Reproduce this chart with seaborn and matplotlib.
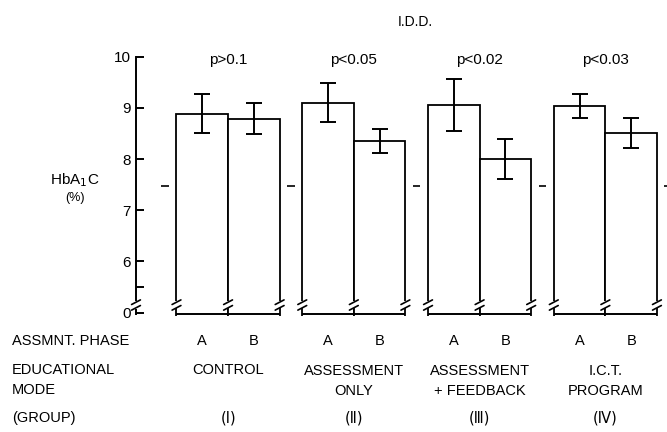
import numpy as np
import pandas as pd
import matplotlib
matplotlib.use("Agg")
import matplotlib.pyplot as plt
import matplotlib.transforms as mtransforms
import seaborn as sns

sns.set_style("white")
plt.rcParams['font.family'] = ['Liberation Sans', 'DejaVu Sans']
plt.rcParams['text.color'] = 'black'
plt.rcParams['ytick.color'] = 'black'
plt.rcParams['ytick.labelcolor'] = 'black'

## data ##
groups = ["I", "II", "III", "IV"]
phases = ["A", "B"]
hba1c_A = [8.89, 9.10, 9.06, 9.04]
hba1c_B = [8.79, 8.35, 8.00, 8.51]
err_A = [0.375, 0.38, 0.51, 0.24]
err_B = [0.30, 0.235, 0.39, 0.285]
p_labels = ["p>0.1", "p<0.05", "p<0.02", "p<0.03"]
mode_labels = ["CONTROL", "ASSESSMENT\nONLY", "ASSESSMENT\n+ FEEDBACK", "I.C.T.\nPROGRAM"]
group_labels = ["(Ⅰ)", "(Ⅱ)", "(Ⅲ)", "(Ⅳ)"]
dash_level = 7.47
y_ticks = [5.5, 6, 7, 8, 9, 10]
y_ticklabels = ["", "6", "7", "8", "9", "10"]
y_zero = 4.99  # position of the "0" after the axis break

df = pd.DataFrame({
    "group": groups * 2,
    "phase": ["A"] * 4 + ["B"] * 4,
    "value": hba1c_A + hba1c_B,
})

W, H = 667, 432
fig = plt.figure(figsize=(W / 100, H / 100), dpi=100)
ax = fig.add_axes([136 / W, (H - 316) / H, 1 - 136 / W, 316 / H])

bw = 0.82
sns.barplot(data=df, x="group", y="value", hue="phase", order=groups,
            hue_order=phases, palette=["white", "white"], saturation=1,
            width=bw, errorbar=None, edgecolor="black", linewidth=1.3,
            legend=False, ax=ax)

ax.set_xlim(-0.732, 3.49)
ax.set_ylim(4.93, 11.113)

xs = np.arange(len(groups))
off = bw / 4
ax.errorbar(xs - off, hba1c_A, yerr=err_A, fmt="none", ecolor="black",
            elinewidth=1.4, capsize=6, capthick=1.4, zorder=5)
ax.errorbar(xs + off, hba1c_B, yerr=err_B, fmt="none", ecolor="black",
            elinewidth=1.4, capsize=6, capthick=1.4, zorder=5)

# bottom line of each group and axis breaks
ax.hlines([4.965] * 4, xs - bw / 2, xs + bw / 2, color="black", lw=1.4,
          clip_on=False, zorder=6)
edges = np.concatenate([xs - bw / 2, xs, xs + bw / 2, [ax.get_xlim()[0]]])
ax.vlines(edges, 5.09, 5.22, color="white", lw=4, zorder=6)
for e in edges:
    for yb in (5.09, 5.20):
        ax.plot([e - 0.035, e + 0.035], [yb - 0.045, yb + 0.045],
                color="black", lw=1.2, zorder=7, clip_on=False)
ax.vlines([ax.get_xlim()[0]], 4.94, 5.06, color="black", lw=1.4,
          clip_on=False, zorder=7)

# short dashes between groups
ax.hlines([dash_level] * 5, np.arange(5) - 0.53, np.arange(5) - 0.47,
          color="black", lw=1.2, clip_on=False)

# axes styling
sns.despine(ax=ax, top=True, right=True, bottom=True, left=False)
ax.spines["left"].set_bounds(5.25, 10)
ax.spines["left"].set_linewidth(1.4)
ax.spines["left"].set_color("black")
ax.set_yticks(y_ticks + [y_zero])
ax.set_yticklabels(y_ticklabels + ["0"])
ax.tick_params(axis="y", direction="in", length=6, width=1.4, labelsize=11,
               pad=4, left=True)
ax.set_xticks([])
ax.set_xlabel("")
ax.set_ylabel("")

# p-values
for i, p in enumerate(p_labels):
    ax.text(xs[i], 9.93, p, ha="center", va="center", fontsize=11)

fig.text(415 / W, 1 - 22 / H, "I.D.D.", ha="center", va="center", fontsize=10)
fig.text(75 / W, 1 - 180 / H, "HbA$_1$C", ha="center", va="center", fontsize=11)
fig.text(75 / W, 1 - 198 / H, "(%)", ha="center", va="center", fontsize=9)

# row labels below
fs = 10.5
trans = mtransforms.blended_transform_factory(ax.transData, fig.transFigure)
fig.text(12 / W, 1 - 341 / H, "ASSMNT. PHASE", ha="left", va="center", fontsize=fs)
fig.text(12 / W, 1 - 380 / H, "EDUCATIONAL\nMODE", ha="left", va="center",
         fontsize=fs, linespacing=1.55)
fig.text(12 / W, 1 - 418 / H, "(GROUP)", ha="left", va="center", fontsize=fs)
for i in range(len(groups)):
    ax.text(xs[i] - off, 1 - 341 / H, phases[0], transform=trans,
            ha="center", va="center", fontsize=fs)
    ax.text(xs[i] + off, 1 - 341 / H, phases[1], transform=trans,
            ha="center", va="center", fontsize=fs)
    two = "\n" in mode_labels[i]
    ax.text(xs[i], 1 - (381 if two else 370) / H, mode_labels[i], transform=trans,
            ha="center", va="center", fontsize=fs, linespacing=1.55)
    ax.text(xs[i], 1 - 418 / H, group_labels[i], transform=trans,
            ha="center", va="center", fontsize=fs, family=["DejaVu Sans"])

fig.savefig("out.png", dpi=100)
